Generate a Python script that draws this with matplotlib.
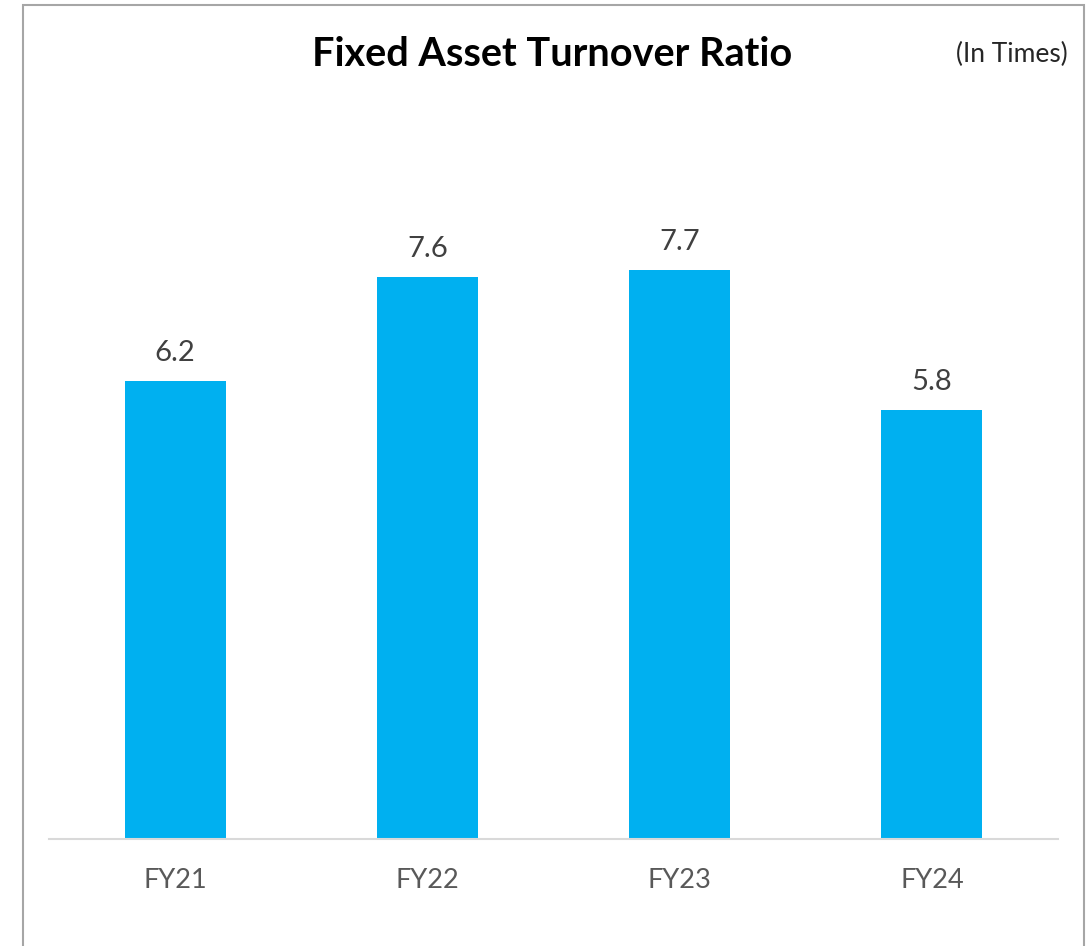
import matplotlib.pyplot as plt
from matplotlib.patches import Rectangle

years = ['FY21', 'FY22', 'FY23', 'FY24']
ratio = [6.2, 7.6, 7.7, 5.8]

plt.rcParams['font.family'] = ['Lato', 'DejaVu Sans']

fig = plt.figure(figsize=(10.92, 9.46), dpi=100)
ax = fig.add_axes([0.0449, 0.1131, 0.924, 0.7812])

x = range(len(years))
bars = ax.bar(x, ratio, width=0.4, color='#00B0F0')
for b, v in zip(bars, ratio):
    ax.text(b.get_x() + b.get_width() / 2, v + 0.27, f'{v:.1f}',
            ha='center', va='baseline', fontsize=21, color='#404040')

ax.set_xlim(-0.5, 3.5)
ax.set_ylim(0, 10)
ax.set_xticks(list(x))
ax.set_xticklabels(years, fontsize=19.5, color='#595959')
ax.tick_params(axis='x', length=0, pad=21)
ax.set_yticks([])
for s in ['top', 'right', 'left']:
    ax.spines[s].set_visible(False)
ax.spines['bottom'].set_color('#d9d9d9')
ax.spines['bottom'].set_linewidth(1.5)

fig.text(0.506, 1 - 66 / 946, 'Fixed Asset Turnover Ratio', ha='center', va='baseline',
         fontsize=28.5, fontweight='bold', color='black')
fig.text(1068 / 1092, 1 - 62 / 946, '(In Times)', ha='right', va='baseline',
         fontsize=19, color='#262626')

# outer frame, open at the bottom edge of the picture
fig.patches.append(Rectangle((23 / 1092, -0.05), (1084 - 23) / 1092, 1.05 - 5 / 946,
                             transform=fig.transFigure, fill=False,
                             edgecolor='#a6a6a6', linewidth=1.5))

fig.savefig('out.png', dpi=100)
